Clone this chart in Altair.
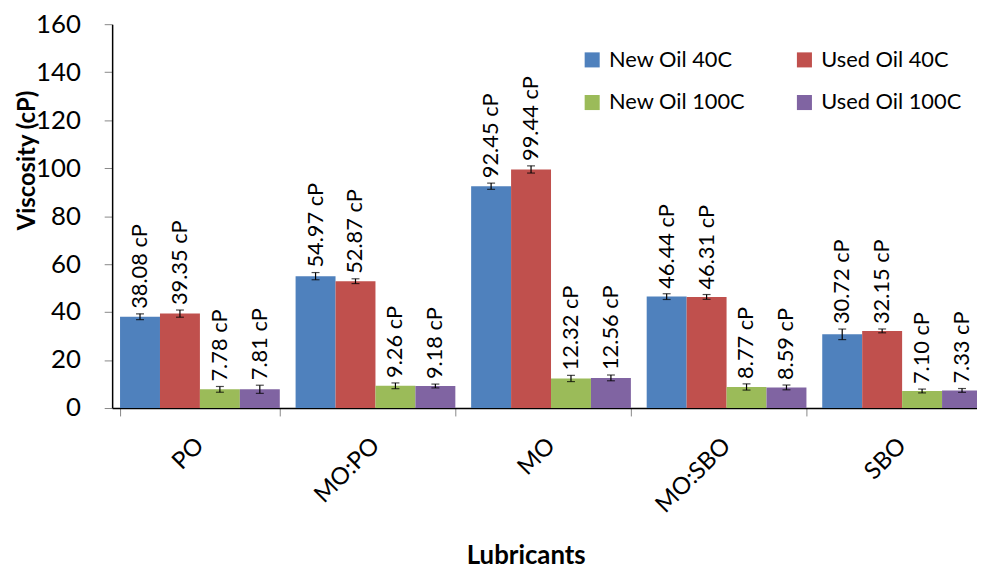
import altair as alt
import pandas as pd

categories = ["PO", "MO:PO", "MO", "MO:SBO", "SBO"]
series = ["New Oil 40C", "Used Oil 40C", "New Oil 100C", "Used Oil 100C"]
colors = ["#4F81BD", "#C0504D", "#9BBB59", "#8064A2"]

new40 = [38.08, 54.97, 92.45, 46.44, 30.72]
used40 = [39.35, 52.87, 99.44, 46.31, 32.15]
new100 = [7.78, 9.26, 12.32, 8.77, 7.10]
used100 = [7.81, 9.18, 12.56, 8.59, 7.33]

new40_err = [1.2, 1.5, 1.3, 1.2, 2.2]
used40_err = [1.5, 1.0, 1.5, 1.0, 0.8]
new100_err = [1.2, 1.2, 1.3, 1.3, 0.8]
used100_err = [1.7, 0.8, 1.2, 1.0, 0.8]

values = [new40, used40, new100, used100]
errors = [new40_err, used40_err, new100_err, used100_err]

rows = []
for s, vals, errs in zip(series, values, errors):
    for c, v, e in zip(categories, vals, errs):
        rows.append({"Lubricant": c, "Series": s, "Value": v,
                     "lo": v - e, "hi": v + e, "label": f"{v:.2f} cP"})
df = pd.DataFrame(rows)

FONT = "Lato"

x = alt.X("Lubricant:N", sort=categories,
          scale=alt.Scale(range=[0, 885], paddingInner=0.09, paddingOuter=0.045),
          axis=alt.Axis(title="Lubricants", labelAngle=-45, labelAlign="right",
                        labelBaseline="middle", labelPadding=26, labelFontSize=24,
                        tickBand="extent", tickSize=8, tickColor="#888888",
                        titleX=417, titleY=149, titleBaseline="middle",
                        titleFontSize=26, titleFontWeight="bold"))
xo = alt.XOffset("Series:N", sort=series, scale=alt.Scale(paddingInner=0, paddingOuter=0))
y = alt.Y("Value:Q", scale=alt.Scale(domain=[0, 160]),
          axis=alt.Axis(title="Viscosity (cP)", values=list(range(0, 161, 20)),
                        grid=False, tickSize=8, tickColor="#888888", labelPadding=24,
                        labelFontSize=26, titleFontSize=24, titleFontWeight="bold",
                        titleX=-85, titleY=137, titleBaseline="middle", titleAngle=-90))
color = alt.Color("Series:N", sort=series,
                  scale=alt.Scale(domain=series, range=colors),
                  legend=alt.Legend(title=None, orient="none", legendX=473, legendY=25,
                                    columns=2, direction="horizontal",
                                    symbolType="square", symbolSize=230,
                                    symbolStrokeWidth=0, labelFontSize=22,
                                    labelOffset=6, columnPadding=48, rowPadding=21,
                                    padding=0, labelLimit=300))

base = alt.Chart(df)
bars = base.mark_bar(stroke=None).encode(x=x, xOffset=xo, y=y, color=color)
rules = base.mark_rule(color="black", strokeWidth=1.2).encode(
    x=x, xOffset=xo, y="lo:Q", y2="hi:Q")
caps_lo = base.mark_tick(color="black", size=8, thickness=1.2).encode(
    x=x, xOffset=xo, y="lo:Q")
caps_hi = base.mark_tick(color="black", size=8, thickness=1.2).encode(
    x=x, xOffset=xo, y="hi:Q")
texts = base.mark_text(angle=270, align="left", baseline="middle", dx=5,
                       fontSize=22, font=FONT, color="black").encode(
    x=x, xOffset=xo, y="hi:Q", text="label:N")

chart = alt.layer(bars, rules, caps_lo, caps_hi, texts).properties(
    width=872, height=387,
    autosize=alt.AutoSizeParams(type="none"),
    padding={"left": 105, "top": 14, "right": 0, "bottom": 162},
).configure_view(stroke=None).configure_axis(
    labelFont=FONT, titleFont=FONT, labelColor="black", titleColor="black",
    domainColor="black", domainWidth=1.5
).configure_legend(labelFont=FONT, labelColor="black")

chart.save("out.html", embed_options={"renderer": "svg", "actions": False})
